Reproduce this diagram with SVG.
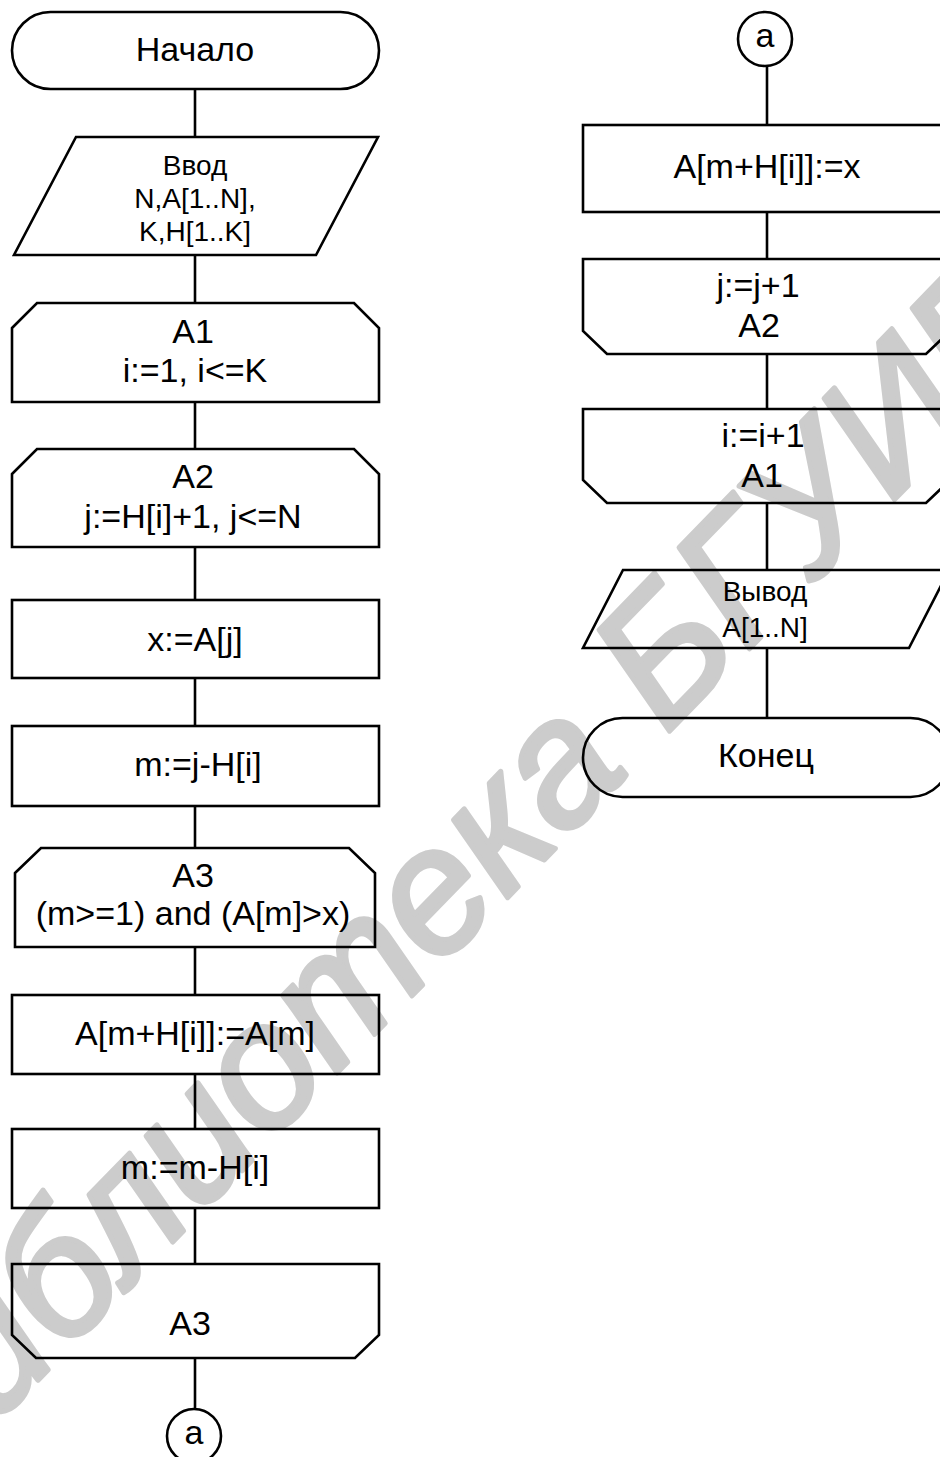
<svg xmlns="http://www.w3.org/2000/svg" width="940" height="1457" viewBox="0 0 940 1457">
<style>
.s{fill:none;stroke:#000;stroke-width:2.6;stroke-linejoin:miter}
.c{fill:none;stroke:#000;stroke-width:2.6}
.t{font-family:"Liberation Sans",Arial,sans-serif;font-size:34px;fill:#000;text-anchor:middle}
.t2{font-family:"Liberation Sans",Arial,sans-serif;font-size:28px;fill:#000;text-anchor:middle}
.wm{font-family:"Liberation Sans",Arial,sans-serif;font-size:176px;font-style:italic;fill:#cccccc;stroke:#cccccc;stroke-width:5;stroke-linejoin:round}
</style>
<rect x="0" y="0" width="940" height="1457" fill="#fff"/>
<g id="watermark">
<text class="wm" transform="translate(-85,1507) rotate(-45.8)">Библиотека БГУИР</text>
</g>
<g id="connectors">
<line class="c" x1="195" y1="89" x2="195" y2="137"/>
<line class="c" x1="195" y1="255" x2="195" y2="303"/>
<line class="c" x1="195" y1="402" x2="195" y2="449"/>
<line class="c" x1="195" y1="547" x2="195" y2="600"/>
<line class="c" x1="195" y1="678" x2="195" y2="726"/>
<line class="c" x1="195" y1="806" x2="195" y2="848"/>
<line class="c" x1="195" y1="947" x2="195" y2="995"/>
<line class="c" x1="195" y1="1074" x2="195" y2="1129"/>
<line class="c" x1="195" y1="1208" x2="195" y2="1264"/>
<line class="c" x1="195" y1="1358" x2="195" y2="1409"/>
<line class="c" x1="767" y1="66" x2="767" y2="125"/>
<line class="c" x1="767" y1="212" x2="767" y2="259"/>
<line class="c" x1="767" y1="354" x2="767" y2="409"/>
<line class="c" x1="767" y1="503" x2="767" y2="570"/>
<line class="c" x1="767" y1="648" x2="767" y2="718"/>
</g>
<g id="start">
<rect class="s" x="12" y="12" width="367" height="77" rx="38.5" ry="38.5"/>
<text class="t" x="195" y="61">Начало</text>
</g>
<g id="input">
<polygon class="s" points="76,137 378,137 316,255 14,255"/>
<text class="t2" x="195" y="175">Ввод</text>
<text class="t2" x="195" y="208">N,A[1..N],</text>
<text class="t2" x="195" y="241">K,H[1..K]</text>
</g>
<g id="loopA1">
<polygon class="s" points="12,328 37,303 354,303 379,328 379,402 12,402"/>
<text class="t" x="193" y="343">A1</text>
<text class="t" x="195" y="382">i:=1, i&lt;=K</text>
</g>
<g id="loopA2">
<polygon class="s" points="12,474 37,449 354,449 379,474 379,547 12,547"/>
<text class="t" x="193" y="488">A2</text>
<text class="t" x="193" y="528">j:=H[i]+1, j&lt;=N</text>
</g>
<g id="assignX">
<rect class="s" x="12" y="600" width="367" height="78"/>
<text class="t" x="195" y="651">x:=A[j]</text>
</g>
<g id="assignM">
<rect class="s" x="12" y="726" width="367" height="80"/>
<text class="t" x="198" y="776">m:=j-H[i]</text>
</g>
<g id="loopA3">
<polygon class="s" points="15,873 41,848 349,848 375,873 375,947 15,947"/>
<text class="t" x="193" y="887">A3</text>
<text class="t" x="193" y="925">(m&gt;=1) and (A[m]&gt;x)</text>
</g>
<g id="shift">
<rect class="s" x="12" y="995" width="367" height="79"/>
<text class="t" x="195" y="1045">A[m+H[i]]:=A[m]</text>
</g>
<g id="decM">
<rect class="s" x="12" y="1129" width="367" height="79"/>
<text class="t" x="195" y="1179">m:=m-H[i]</text>
</g>
<g id="loopA3end">
<polygon class="s" points="12,1264 379,1264 379,1335 355,1358 36,1358 12,1335"/>
<text class="t" x="190" y="1335">A3</text>
</g>
<g id="connA1">
<circle class="s" cx="194" cy="1436" r="27"/>
<text class="t" x="194" y="1444">a</text>
</g>
<g id="connA2">
<circle class="s" cx="765" cy="39" r="27"/>
<text class="t" x="765" y="47">a</text>
</g>
<g id="insert">
<rect class="s" x="583" y="125" width="367" height="87"/>
<text class="t" x="767" y="178">A[m+H[i]]:=x</text>
</g>
<g id="loopA2end">
<polygon class="s" points="583,259 950,259 950,331 926,354 607,354 583,331"/>
<text class="t" x="758" y="297">j:=j+1</text>
<text class="t" x="759" y="337">A2</text>
</g>
<g id="loopA1end">
<polygon class="s" points="583,409 950,409 950,480 926,503 607,503 583,480"/>
<text class="t" x="763" y="447">i:=i+1</text>
<text class="t" x="762" y="487">A1</text>
</g>
<g id="output">
<polygon class="s" points="623,570 949,570 909,648 583,648"/>
<text class="t2" x="765" y="601">Вывод</text>
<text class="t2" x="765" y="637">A[1..N]</text>
</g>
<g id="end">
<rect class="s" x="583" y="718" width="367" height="79" rx="39.5" ry="39.5"/>
<text class="t" x="766" y="767">Конец</text>
</g>
</svg>
